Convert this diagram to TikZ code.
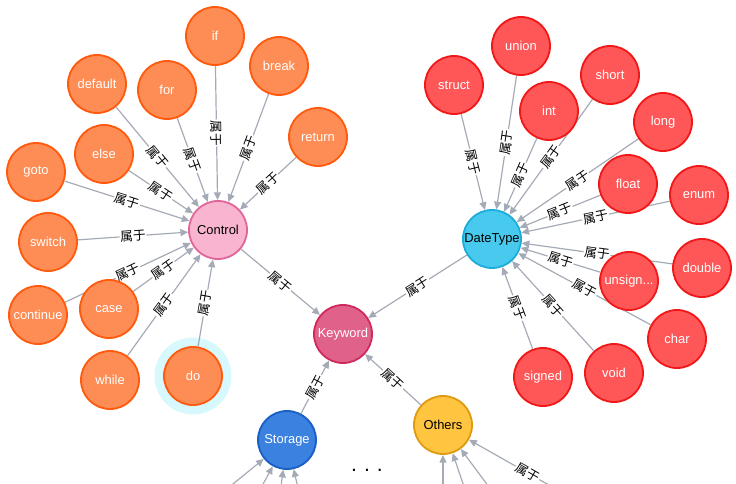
\documentclass[tikz,border=0pt]{standalone}
\usepackage{fontspec}
\setmainfont{Liberation Sans}
\newfontfamily\cjkfont{Noto Sans CJK SC}
\usetikzlibrary{arrows.meta}
\usetikzlibrary{backgrounds}
\definecolor{ctrlleaf}{HTML}{FD8C55}
\definecolor{ctrlleafline}{HTML}{FF5A0D}
\definecolor{typeleaf}{HTML}{FF5757}
\definecolor{typeleafline}{HTML}{F01818}
\definecolor{ctrlfill}{HTML}{F9B4CF}
\definecolor{ctrlline}{HTML}{E0679A}
\definecolor{kwfill}{HTML}{E0628B}
\definecolor{kwline}{HTML}{CF2A5C}
\definecolor{typefill}{HTML}{48C9EE}
\definecolor{typeline}{HTML}{1DADDA}
\definecolor{storfill}{HTML}{3B81E0}
\definecolor{storline}{HTML}{1A60C4}
\definecolor{othfill}{HTML}{FFC540}
\definecolor{othline}{HTML}{DE9B12}
\definecolor{relgray}{HTML}{A5ABB6}
\definecolor{dohalo}{HTML}{D7F8FC}
\tikzset{
  kwnode/.style={circle, minimum size=1.45cm, inner sep=0pt, line width=1.3pt, font=\fontsize{9.2}{11}\selectfont},
  ctrlkw/.style={kwnode, fill=ctrlleaf, draw=ctrlleafline, text=white},
  typekw/.style={kwnode, fill=typeleaf, draw=typeleafline, text=white},
  rel/.style={draw=relgray, line width=0.85pt, -{Triangle[length=5.5pt,width=5pt]}},
  rellabel/.style={sloped, fill=white, inner sep=0.6pt, font=\cjkfont\fontsize{9}{10}\selectfont}
}

\begin{document}
\begin{tikzpicture}[x=0.025cm, y=-0.025cm]
    \useasboundingbox (0,0) rectangle (736,484);
    \node[kwnode, fill=kwfill, draw=kwline, text=white] (keyword) at (343,334) {Keyword};
    \node[kwnode, fill=ctrlfill, draw=ctrlline] (control) at (218,230) {Control};
    \node[kwnode, fill=typefill, draw=typeline] (datetype) at (492,239) {DateType};
    \node[kwnode, fill=storfill, draw=storline, text=white] (storage) at (287,440) {Storage};
    \node[kwnode, fill=othfill, draw=othline] (others) at (443,425) {Others};
    \node[font=\fontsize{15}{16}\selectfont] (more) at (367,470) {.\,\,.\,\,.};
    \node[ctrlkw] (c-if) at (215,36) {if};
    \node[ctrlkw] (c-break) at (279,66) {break};
    \node[ctrlkw] (c-default) at (97,84) {default};
    \node[ctrlkw] (c-for) at (167,90) {for};
    \node[ctrlkw] (c-return) at (318,137) {return};
    \node[ctrlkw] (c-else) at (104,154) {else};
    \node[ctrlkw] (c-goto) at (36,172) {goto};
    \node[ctrlkw] (c-switch) at (48,242) {switch};
    \node[ctrlkw] (c-continue) at (38,315) {continue};
    \node[ctrlkw] (c-case) at (109,309) {case};
    \node[ctrlkw] (c-while) at (110,380) {while};
    \node[ctrlkw] (c-do) at (193,376) {do};
    \node[typekw] (t-struct) at (454,85) {struct};
    \node[typekw] (t-union) at (521,46) {union};
    \node[typekw] (t-int) at (549,111) {int};
    \node[typekw] (t-short) at (610,75) {short};
    \node[typekw] (t-long) at (663,122) {long};
    \node[typekw] (t-float) at (628,184) {float};
    \node[typekw] (t-enum) at (699,195) {enum};
    \node[typekw] (t-double) at (702,268) {double};
    \node[typekw] (t-unsigned) at (629,281) {unsign...};
    \node[typekw] (t-char) at (677,339) {char};
    \node[typekw] (t-signed) at (543,377) {signed};
    \node[typekw] (t-void) at (614,373) {void};
    \coordinate (s-in1) at (201,510);
    \coordinate (s-in2) at (249,510);
    \coordinate (s-in3) at (278,510);
    \coordinate (s-in4) at (303,510);
    \coordinate (o-in1) at (443,510);
    \coordinate (o-in2) at (472,510);
    \coordinate (o-in3) at (506,510);
    \coordinate (o-in4) at (586,506);
    \begin{pgfonlayer}{background}
      \fill[dohalo] (c-do) circle (38.5);
      \draw[rel] (control) -- node[rellabel] {属于} (keyword);
      \draw[rel] (datetype) -- node[rellabel] {属于} (keyword);
      \draw[rel] (storage) -- node[rellabel] {属于} (keyword);
      \draw[rel] (others) -- node[rellabel] {属于} (keyword);
      \draw[rel] (c-if) -- node[rellabel] {属于} (control);
      \draw[rel] (c-break) -- node[rellabel] {属于} (control);
      \draw[rel] (c-default) -- node[rellabel] {属于} (control);
      \draw[rel] (c-for) -- node[rellabel] {属于} (control);
      \draw[rel] (c-return) -- node[rellabel] {属于} (control);
      \draw[rel] (c-else) -- node[rellabel] {属于} (control);
      \draw[rel] (c-goto) -- node[rellabel] {属于} (control);
      \draw[rel] (c-switch) -- node[rellabel] {属于} (control);
      \draw[rel] (c-continue) -- node[rellabel] {属于} (control);
      \draw[rel] (c-case) -- node[rellabel] {属于} (control);
      \draw[rel] (c-while) -- node[rellabel] {属于} (control);
      \draw[rel] (c-do) -- node[rellabel] {属于} (control);
      \draw[rel] (t-struct) -- node[rellabel] {属于} (datetype);
      \draw[rel] (t-union) -- node[rellabel] {属于} (datetype);
      \draw[rel] (t-int) -- node[rellabel] {属于} (datetype);
      \draw[rel] (t-short) -- node[rellabel] {属于} (datetype);
      \draw[rel] (t-long) -- node[rellabel] {属于} (datetype);
      \draw[rel] (t-float) -- node[rellabel] {属于} (datetype);
      \draw[rel] (t-enum) -- node[rellabel] {属于} (datetype);
      \draw[rel] (t-double) -- node[rellabel] {属于} (datetype);
      \draw[rel] (t-unsigned) -- node[rellabel] {属于} (datetype);
      \draw[rel] (t-char) -- node[rellabel] {属于} (datetype);
      \draw[rel] (t-signed) -- node[rellabel] {属于} (datetype);
      \draw[rel] (t-void) -- node[rellabel] {属于} (datetype);
      \draw[rel] (s-in1) -- (storage);
      \draw[rel] (s-in2) -- (storage);
      \draw[rel] (s-in3) -- (storage);
      \draw[rel] (s-in4) -- (storage);
      \draw[rel] (o-in1) -- (others);
      \draw[rel] (o-in2) -- (others);
      \draw[rel] (o-in3) -- (others);
      \draw[rel] (o-in4) -- node[rellabel] {属于} (others);
    \end{pgfonlayer}
  \end{tikzpicture}
\end{document}
